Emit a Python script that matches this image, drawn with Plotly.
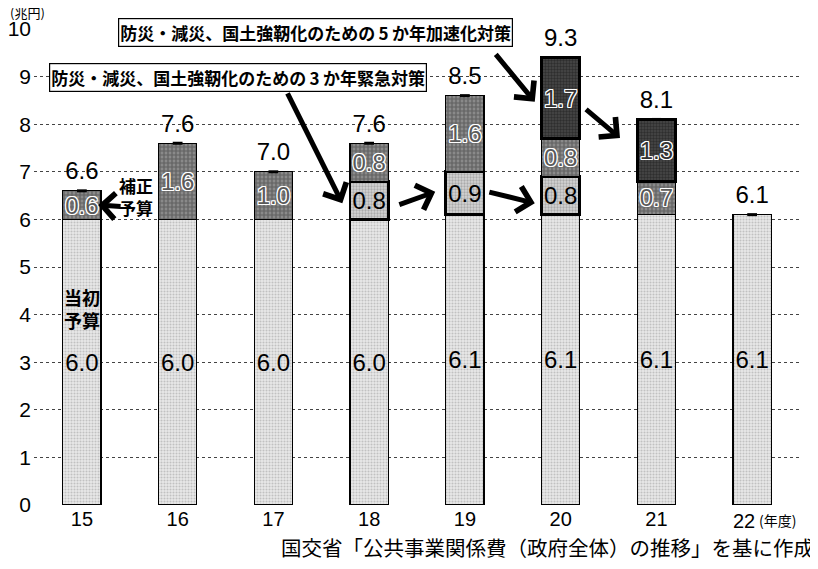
import plotly.graph_objects as go

years = ["15", "16", "17", "18", "19", "20", "21", "22"]
initial = [6.0, 6.0, 6.0, 6.0, 6.1, 6.1, 6.1, 6.1]
emergency3 = [None, None, None, 0.8, 0.9, 0.8, None, None]
supplementary = [0.6, 1.6, 1.0, 0.8, 1.6, 0.8, 0.7, None]
accel5 = [None, None, None, None, None, 1.7, 1.3, None]
total_labels = ["6.6", "7.6", "7.0", "7.6", "8.5", "9.3", "8.1", "6.1"]
tick_labels = ["15", "16", "17", "18", "19", "20", "21", ""]
last_tick = "22"

box5 = "防災・減災、国土強靭化のための\u20095\u2009か年加速化対策"
box3 = "防災・減災、国土強靭化のための\u20093\u2009か年緊急対策"
label_supp = "補正<br>予算"
label_init = "当初<br>予算"
unit_label = "(兆円)"
year_label = "(年度)"
source_label = "国交省「公共事業関係費（政府全体）の推移」を基に作成"

NUM = "Liberation Sans, Arial, sans-serif"
JP = "Noto Sans CJK JP, sans-serif"

# page body has an 8px margin: plot area on screen 34..800 x 29..505
PW, PH = 766, 476

outline_white = ("1px 1px 0 #fff, -1px -1px 0 #fff, 1px -1px 0 #fff, -1px 1px 0 #fff, "
                 "0 1px 0 #fff, 0 -1px 0 #fff, 1px 0 0 #fff, -1px 0 0 #fff")

def seg_text(vals):
    return [("" if v is None else f"{v:.1f}") for v in vals]

fig = go.Figure()

common = dict(x=years, width=0.4, textposition="inside", insidetextanchor="middle",
              textangle=0, constraintext="none", hoverinfo="skip", showlegend=False)

fig.add_trace(go.Bar(
    y=initial, text=seg_text(initial), texttemplate="%{text}",
    marker=dict(color="#dddddd", line=dict(color="#000", width=1.4),
                pattern=dict(shape=".", size=3, solidity=0.4, fgcolor="#999999", bgcolor="#e9e9e9")),
    textfont=dict(family=NUM, size=24, color="#000"), **common))

fig.add_trace(go.Bar(
    y=emergency3, text=seg_text(emergency3), texttemplate="%{text}",
    marker=dict(color="#c8c8c8", line=dict(color="#000", width=2.8),
                pattern=dict(shape=".", size=3, solidity=0.45, fgcolor="#808080", bgcolor="#d4d4d4")),
    textfont=dict(family=NUM, size=24, color="#000"), **common))

fig.add_trace(go.Bar(
    y=supplementary, text=seg_text(supplementary), texttemplate="%{text}",
    marker=dict(color="#6c6c6c", line=dict(color="#000", width=1.3),
                pattern=dict(shape="+", size=4, solidity=0.5, fgcolor="#363636", bgcolor="#8a8a8a")),
    textfont=dict(family=NUM, size=24, color="#5a5a5a", shadow=outline_white), **common))

fig.add_trace(go.Bar(
    y=accel5, text=seg_text(accel5), texttemplate="%{text}",
    marker=dict(color="#363636", line=dict(color="#000", width=2.8),
                pattern=dict(shape=".", size=3, solidity=0.5, fgcolor="#141414", bgcolor="#484848")),
    textfont=dict(family=NUM, size=24, color="#333333", shadow=outline_white), **common))

tops = []
for i in range(len(years)):
    s = 0.0
    for arr in (initial, emergency3, supplementary, accel5):
        if arr[i] is not None:
            s += arr[i]
    tops.append(s)

fig.add_trace(go.Scatter(
    x=years, y=tops, mode="markers+text", text=total_labels, textposition="top center",
    marker=dict(symbol="line-ew-open", size=7, color="#000", line=dict(color="#000", width=3)),
    textfont=dict(family=NUM, size=24, color="#000"),
    hoverinfo="skip", showlegend=False, cliponaxis=False))

arrow = dict(showarrow=True, arrowhead=4, arrowsize=1.0, arrowwidth=5, arrowcolor="#000",
             axref="x", ayref="y", xref="x", yref="y", text="")

annotations = [
    dict(x=2.72, y=6.34, ax=2.14, ay=8.68, **arrow),
    dict(x=3.69, y=6.58, ax=3.30, ay=6.30, **arrow),
    dict(x=4.73, y=6.34, ax=4.24, ay=6.58, **arrow),
    dict(x=4.73, y=8.47, ax=4.31, ay=9.50, **arrow),
    dict(x=5.62, y=7.71, ax=5.25, ay=8.34, **arrow),
    dict(x=0.17, y=6.30, ax=0.42, ay=6.27, **arrow),
    dict(x=2.44, y=9.93, xref="x", yref="y", text=box5, showarrow=False,
         font=dict(family=JP, size=17, color="#000", weight="bold"),
         bgcolor="#fff", bordercolor="#000", borderwidth=1.2, borderpad=1),
    dict(x=1.63, y=8.98, xref="x", yref="y", text=box3, showarrow=False,
         font=dict(family=JP, size=17, color="#000", weight="bold"),
         bgcolor="#fff", bordercolor="#000", borderwidth=1.2, borderpad=1),
    dict(x=0.57, y=6.49, xref="x", yref="y", text=label_supp, showarrow=False,
         font=dict(family=JP, size=17, color="#000", weight="bold")),
    dict(x=0.0, y=4.12, xref="x", yref="y", text=label_init, showarrow=False,
         font=dict(family=JP, size=18, color="#000", weight="bold")),
    dict(x=-26 / PW, y=1 + 16 / PH, xref="paper", yref="paper", text=unit_label,
         showarrow=False, xanchor="left", yanchor="middle",
         font=dict(family=JP, size=13, color="#000")),
    dict(x=(731 - 34) / PW, y=-(521 - 505) / PH, xref="paper", yref="paper",
         text=last_tick, showarrow=False, xanchor="left", yanchor="middle",
         font=dict(family=NUM, size=20, color="#000")),
    dict(x=(757 - 34) / PW, y=-(520 - 505) / PH, xref="paper", yref="paper",
         text=year_label, showarrow=False, xanchor="left", yanchor="middle",
         font=dict(family=JP, size=14, color="#000")),
    dict(x=(816 - 34) / PW, y=-(547 - 505) / PH, xref="paper", yref="paper",
         text=source_label, showarrow=False, xanchor="right", yanchor="middle",
         font=dict(family=JP, size=20.5, color="#000")),
]

fig.update_layout(
    annotations=annotations,
    width=818, height=569,
    margin=dict(l=26, r=26, t=21, b=72, autoexpand=False),
    barmode="stack",
    plot_bgcolor="#fff", paper_bgcolor="#fff",
    xaxis=dict(type="category", range=[-0.5, 7.5], showgrid=False, showline=False,
               tickmode="array", tickvals=years, ticktext=tick_labels,
               ticks="", automargin=False, tickfont=dict(family=NUM, size=20, color="#000")),
    yaxis=dict(range=[0, 10], dtick=1, showgrid=True, gridcolor="#444", griddash="dot",
               gridwidth=1, zeroline=False, showline=False, ticks="", automargin=False,
               ticklabelstandoff=2, tickfont=dict(family=NUM, size=21, color="#000")),
)

fig.write_html("out.html")
